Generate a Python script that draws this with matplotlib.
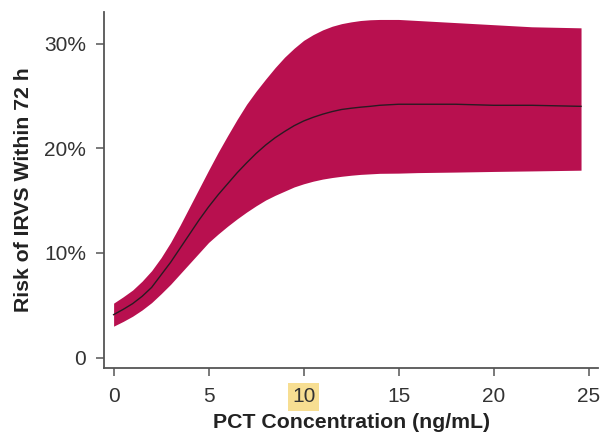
import matplotlib
matplotlib.use("Agg")
import matplotlib.pyplot as plt

pct = [0, 0.5, 1, 1.5, 2, 2.5, 3, 3.5, 4, 4.5, 5, 5.5, 6, 6.5, 7, 7.5, 8, 8.5, 9, 9.5,
       10, 10.5, 11, 11.5, 12, 12.5, 13, 13.5, 14, 15, 16, 18, 20, 22, 24.6]
risk_mean = [4.1, 4.6, 5.15, 5.85, 6.7, 7.9, 9.1, 10.45, 11.8, 13.15, 14.4, 15.55, 16.6, 17.65, 18.6, 19.5, 20.3, 21.0, 21.6, 22.15,
             22.6, 22.95, 23.25, 23.5, 23.7, 23.82, 23.92, 24.0, 24.1, 24.2, 24.2, 24.2, 24.1, 24.1, 24.0]
risk_upper = [5.2, 5.8, 6.45, 7.3, 8.3, 9.55, 11.0, 12.65, 14.4, 16.15, 17.9, 19.6, 21.2, 22.75, 24.2, 25.45, 26.6, 27.7, 28.7, 29.55,
              30.3, 30.85, 31.3, 31.65, 31.9, 32.07, 32.2, 32.27, 32.3, 32.3, 32.2, 32.0, 31.8, 31.6, 31.5]
risk_lower = [3.0, 3.45, 3.95, 4.55, 5.25, 6.1, 7.0, 8.0, 9.0, 10.0, 11.0, 11.8, 12.55, 13.25, 13.9, 14.5, 15.05, 15.5, 15.9, 16.3,
              16.6, 16.85, 17.05, 17.2, 17.32, 17.42, 17.5, 17.55, 17.6, 17.62, 17.67, 17.72, 17.78, 17.83, 17.9]

xticks = [0, 5, 10, 15, 20, 25]
yticks = [0, 10, 20, 30]
ytick_labels = ["0", "10%", "20%", "30%"]

plt.rcParams['font.family'] = ['Liberation Sans', 'DejaVu Sans']

fig = plt.figure(figsize=(6.16, 4.33), dpi=100)
ax = fig.add_axes([0.169, 0.150, 0.802, 0.822])

ax.fill_between(pct, risk_lower, risk_upper, color='#B8104F', linewidth=0)
ax.plot(pct, risk_mean, color='#2a1a22', linewidth=1.0)

ax.set_xlim(-0.5, 25.5)
ax.set_ylim(-1.0, 33.0)
ax.set_xticks(xticks)
ax.set_xticklabels([str(t) for t in xticks])
ax.set_yticks(yticks)
ax.set_yticklabels(ytick_labels)

for s in ['top', 'right']:
    ax.spines[s].set_visible(False)
for s in ['left', 'bottom']:
    ax.spines[s].set_color('#555555')
    ax.spines[s].set_linewidth(1.3)

ax.tick_params(axis='both', direction='out', length=6, width=1.1, color='#555555',
               labelsize=15, labelcolor='#333333')
ax.tick_params(axis='x', pad=8)
ax.tick_params(axis='y', pad=7)

for lbl in ax.get_xticklabels():
    if lbl.get_text() == '10':
        lbl.set_bbox(dict(facecolor='#F7DE92', edgecolor='none', pad=3))

ax.set_xlabel('PCT Concentration (ng/mL)', fontsize=15.3, fontweight='bold', color='#222222', labelpad=5)
ax.set_ylabel('Risk of IRVS Within 72 h', fontsize=15.3, fontweight='bold', color='#222222', labelpad=8)

fig.savefig('out.png', dpi=100)
